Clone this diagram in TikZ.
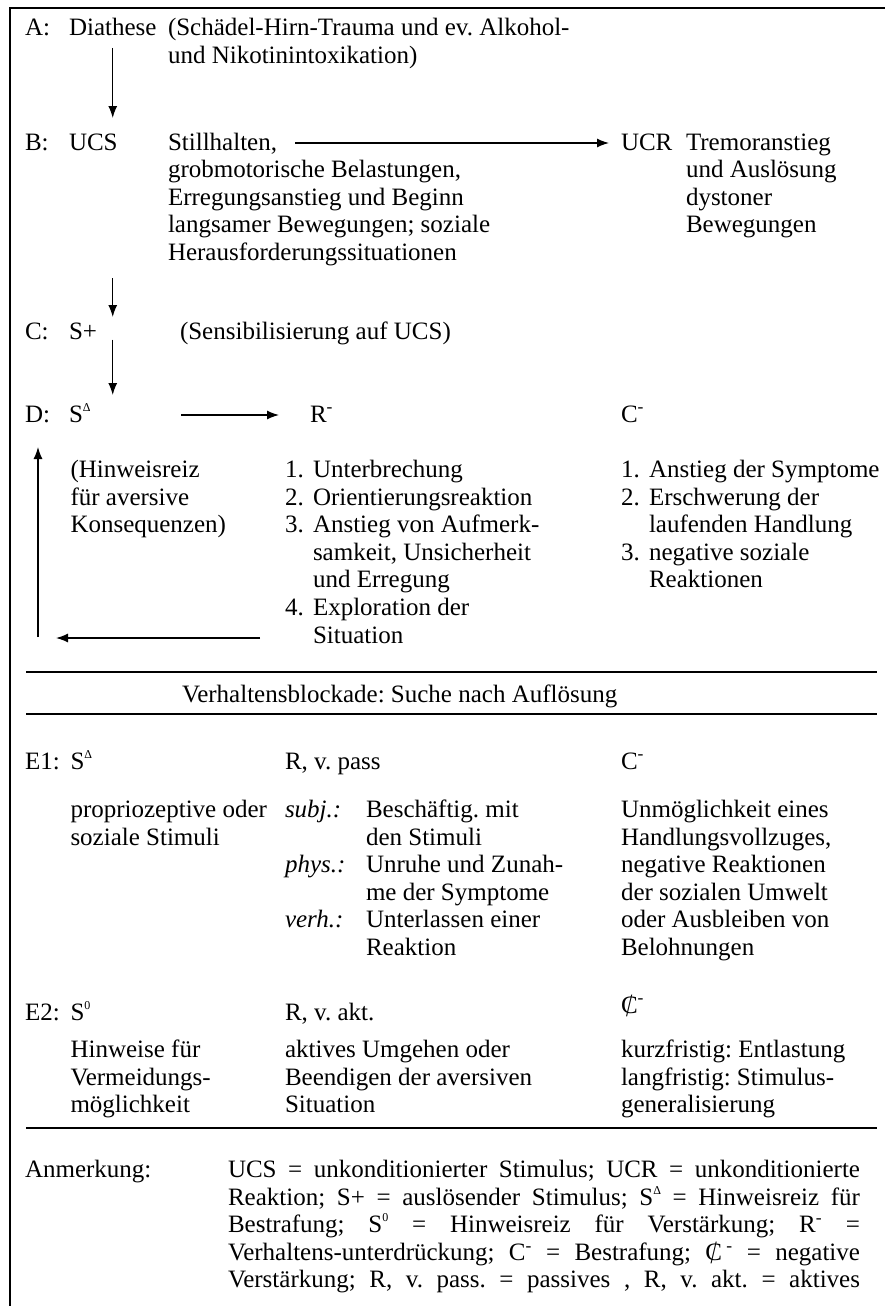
\documentclass[tikz,border=0pt]{standalone}
\usepackage{fontspec}
\setmainfont{Liberation Serif}
\usepackage{graphicx}
\usetikzlibrary{arrows.meta,calc}
\frenchspacing
\newcommand\ml[1]{\begin{tabular}[t]{@{}l@{}}#1\end{tabular}}
\newcommand\mlt[2]{\begin{tabular}[t]{@{}p{#1}@{}l@{}}#2\end{tabular}}
\newcommand\supx[1]{\textsuperscript{#1}}
\newcommand\supsm[1]{\raisebox{11pt}{\fontsize{12}{12}\selectfont #1}}
\newcommand\Cstr{\ooalign{C\cr\hidewidth\raisebox{-3pt}{\scalebox{0.9}[1.3]{/}}\hidewidth\cr}}
\newcommand\nline[1]{\makebox[632pt][s]{#1}}
\begin{document}
\begin{tikzpicture}[x=1pt,y=-1pt,
  txt/.style={anchor=base west, inner sep=0pt, outer sep=0pt, font=\fontsize{25}{27.6}\selectfont\frenchspacing},
  arr/.style={-{Latex[length=12pt,width=9pt]}, line width=1.3pt},
  rule/.style={line width=2pt},
  frame/.style={line width=1.8pt}]
\useasboundingbox (0,0) rectangle (885,1306);
% frame
\draw[frame] (10,1310) -- (10,8) -- (890,8);
% Row A
\node[txt] (lA) at (25,36) {A:};
\node[txt] (diathese) at (69,36) {Diathese};
\node[txt] (tA) at (168,36) {\ml{(Schädel-Hirn-Trauma und ev. Alkohol-\\und Nikotinintoxikation)}};
% Row B
\node[txt] (lB) at (25,150) {B:};
\node[txt] (ucs) at (69,150) {UCS};
\node[txt] (tB) at (168,150) {\ml{Stillhalten,\\grobmotorische Belastungen,\\Erregungsanstieg und Beginn\\langsamer Bewegungen; soziale\\Herausforderungssituationen}};
\node[txt] (ucr) at (621,150) {UCR};
\node[txt] (tUCR) at (686,150) {\ml{Tremoranstieg\\und Auslösung\\dystoner\\Bewegungen}};
% Row C
\node[txt] (lC) at (25,339.5) {C:};
\node[txt] (splus) at (69,339.5) {S+};
\node[txt] (tC) at (180,339.5) {(Sensibilisierung auf UCS)};
% Row D
\node[txt] (lD) at (25,422) {D:};
\node[txt] (sd) at (69,422) {S\supsm{Δ}};
\node[txt] (rminus) at (310,422) {R\supx{-}};
\node[txt] (cminus) at (621,422) {C\supx{-}};
\node[txt] (tDl) at (70.5,477.5) {\ml{(Hinweisreiz\\für aversive\\Konsequenzen)}};
\node[txt] (tDm) at (285,477.5) {\mlt{28pt}{1. & Unterbrechung\\2. & Orientierungsreaktion\\3. & Anstieg von Aufmerk-\\ & samkeit, Unsicherheit\\ & und Erregung\\4. & Exploration der\\ & Situation}};
\node[txt] (tDr) at (621,477.5) {\mlt{28pt}{1. & Anstieg der Symptome\\2. & Erschwerung der\\ & laufenden Handlung\\3. & negative soziale\\ & Reaktionen}};
% rules and block heading
\draw[rule] (26,672) -- (877,672);
\node[txt] (block) at (182,702) {Verhaltensblockade: Suche nach Auflösung};
\draw[rule] (26,714) -- (877,714);
% E1
\node[txt] (lE1) at (25,769) {E1:};
\node[txt] (sd2) at (70.5,769) {S\supsm{Δ}};
\node[txt] (rpass) at (285,769) {R, v. pass};
\node[txt] (cminus2) at (621,769) {C\supx{-}};
\node[txt] (tE1l) at (70.5,817.5) {\ml{propriozeptive oder\\soziale Stimuli}};
\node[txt] (tE1m) at (285,817.5) {\mlt{81pt}{\textit{subj.:} & Beschäftig. mit\\ & den Stimuli\\\textit{phys.:} & Unruhe und Zunah-\\ & me der Symptome\\\textit{verh.:} & Unterlassen einer\\ & Reaktion}};
\node[txt] (tE1r) at (621,817.5) {\ml{Unmöglichkeit eines\\Handlungsvollzuges,\\negative Reaktionen\\der sozialen Umwelt\\oder Ausbleiben von\\Belohnungen}};
% E2
\node[txt] (lE2) at (25,1020) {E2:};
\node[txt] (s0) at (70.5,1020) {S\supsm{0}};
\node[txt] (rakt) at (285,1020) {R, v. akt.};
\node[txt] (cslash) at (621,1013) {\Cstr\supx{-}};
\node[txt] (tE2l) at (70.5,1057.5) {\ml{Hinweise für\\Vermeidungs-\\möglichkeit}};
\node[txt] (tE2m) at (285,1057.5) {\ml{aktives Umgehen oder\\Beendigen der aversiven\\Situation}};
\node[txt] (tE2r) at (621,1057.5) {\ml{kurzfristig: Entlastung\\langfristig: Stimulus-\\generalisierung}};
\draw[rule] (26,1128) -- (877,1128);
% note
\node[txt] (anm) at (25,1177.5) {Anmerkung:};
\node[txt] (note) at (228,1177.5) {\ml{%
\nline{UCS = unkonditionierter Stimulus; UCR = unkonditionierte}\\
\nline{Reaktion; S+ = auslösender Stimulus; S\supsm{Δ} = Hinweisreiz für}\\
\nline{Bestrafung; S\supsm{0} = Hinweisreiz für Verstärkung; R\supx{-} =}\\
\nline{Verhaltens-unterdrückung; C\supx{-} = Bestrafung; \Cstr\,\supx{-} = negative}\\
\nline{Verstärkung; R, v. pass. = passives , R, v. akt. = aktives}}};
% arrows
\draw[arr] ($(diathese.base)+(0,12)$) -- ($(diathese.base)+(0,82)$);
\draw[arr] ($(diathese.base |- splus.base)+(0,-61.5)$) -- ($(diathese.base |- splus.base)+(0,-22.5)$);
\draw[arr] ($(diathese.base |- splus.base)+(0,0)$) -- ($(diathese.base |- sd.base)+(0,-27)$);
\draw[arr] ($(tB.base west)+(127,-7)$) -- ($(ucr.base west)+(-12,-7)$);
\draw[arr] ($(sd.base west)+(112,-7)$) -- ($(rminus.base west)+(-31,-7)$);
\draw[arr] ($(lD.base west)+(13,215)$) -- ($(lD.base west)+(13,25)$);
\draw[arr] ($(tDm.base west)+(-25,160.5)$) -- ($(lD.base west)+(31,216)$);
\end{tikzpicture}
\end{document}
